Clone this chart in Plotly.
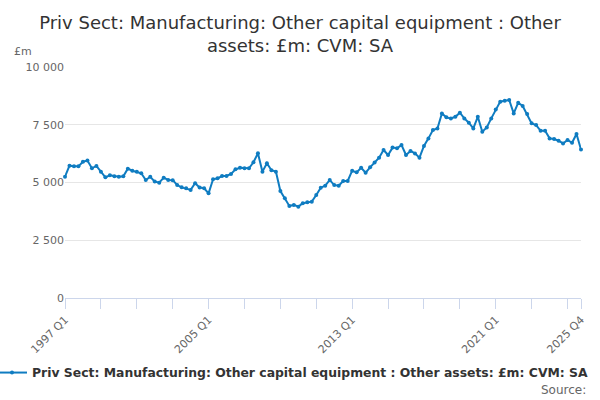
import plotly.graph_objects as go

years = list(range(1997, 2026))
quarters = [f"{y} Q{q}" for y in years for q in range(1, 5)]

values = [
    5250, 5730, 5700, 5700, 5900, 5950, 5615, 5715, 5470, 5225,
    5310, 5270, 5250, 5270, 5600, 5510, 5470, 5400, 5110, 5250,
    5040, 4990, 5210, 5110, 5100, 4890, 4790, 4750, 4680, 4965,
    4780, 4750, 4530, 5140, 5180, 5280, 5280, 5370, 5570, 5640,
    5615, 5615, 5875, 6265, 5470, 5830, 5530, 5470, 4630, 4315,
    3985, 4030, 3955, 4100, 4145, 4170, 4460, 4775, 4860, 5110,
    4890, 4860, 5065, 5065, 5510, 5440, 5640, 5425, 5655, 5870,
    6075, 6405, 6190, 6510, 6480, 6620, 6190, 6365, 6260, 6075,
    6580, 6910, 7270, 7340, 7990, 7820, 7775, 7845, 8020, 7775,
    7590, 7340, 7845, 7200, 7385, 7775, 8165, 8500, 8540, 8570,
    7990, 8450, 8310, 7960, 7560, 7485, 7240, 7240, 6910, 6880,
    6810, 6690, 6840, 6720, 7100, 6430,
]

series_name = "Priv Sect: Manufacturing: Other capital equipment : Other assets: £m: CVM: SA"
title_text = "Priv Sect: Manufacturing: Other capital equipment : Other<br>assets: £m: CVM: SA"
labelled = ["1997 Q1", "2005 Q1", "2013 Q1", "2021 Q1", "2025 Q4"]
y_ticks = [0, 2500, 5000, 7500, 10000]

tick_vals = quarters[::8] + [quarters[-1]]
tick_text = [q if q in labelled else "" for q in tick_vals]

font = "DejaVu Sans"
color = "#0F7CC1"

fig = go.Figure()
fig.add_trace(go.Scatter(
    x=quarters, y=values, mode="lines+markers", name=series_name,
    line=dict(color=color, width=2),
    marker=dict(color=color, size=4),
    cliponaxis=False,
))

fig.update_layout(
    width=600, height=400,
    margin=dict(l=65, r=19, t=67, b=102, autoexpand=False),
    paper_bgcolor="white", plot_bgcolor="white",
    separators=". ",
    font=dict(family=font, color="#666666", size=11),
    title=dict(text=title_text, x=0.5, xref="container", xanchor="center",
               y=1 - 29 / 400, yref="container", yanchor="middle",
               font=dict(family=font, size=18, color="#333333")),
    showlegend=True,
    legend=dict(orientation="h", xref="container", yref="container",
                x=594 / 600, xanchor="right", y=1 - 373 / 400, yanchor="middle",
                font=dict(family=font, size=12.4, color="#333333", weight="bold"),
                itemwidth=30, bgcolor="rgba(0,0,0,0)"),
    xaxis=dict(
        type="category", categoryorder="array", categoryarray=quarters,
        range=[0, len(quarters) - 1],
        tickmode="array", tickvals=tick_vals, ticktext=tick_text,
        tickangle=-45, ticks="outside", ticklen=10, tickcolor="#ccd6eb",
        showline=True, linecolor="#ccd6eb", linewidth=1,
        showgrid=False, zeroline=False, automargin=False,
        tickfont=dict(family=font, size=11, color="#666666"),
    ),
    yaxis=dict(
        range=[0, 10000], tickmode="array", tickvals=y_ticks,
        separatethousands=True, tickformat=",d",
        showgrid=True, gridcolor="#e6e6e6", gridwidth=1,
        zeroline=False, showline=False, ticks="", automargin=False,
        tickfont=dict(family=font, size=11, color="#666666"),
    ),
    annotations=[
        dict(text="£m", xref="paper", yref="paper", x=-0.103, y=1.065,
             xanchor="left", yanchor="middle", showarrow=False,
             font=dict(family=font, size=11, color="#666666")),
        dict(text="Source:", xref="paper", yref="paper", x=1.0136, y=-0.398,
             xanchor="right", yanchor="middle", showarrow=False,
             font=dict(family=font, size=12, color="#666666")),
    ],
)

fig.write_html("out.html", config={"displayModeBar": False},
               post_script="document.body.style.margin='0';")
